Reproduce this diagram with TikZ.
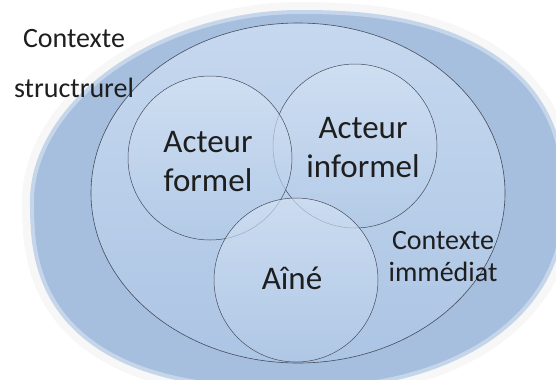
\documentclass[tikz,border=0pt]{standalone}
\usepackage{fontspec}
\setmainfont{Carlito}
\usepackage{tikz}
\usetikzlibrary{shapes.geometric}
\definecolor{ringblue}{RGB}{166,191,222}
\definecolor{ctxtop}{RGB}{198,216,239}
\definecolor{ctxbot}{RGB}{172,197,228}
\definecolor{circtop}{RGB}{214,228,245}
\definecolor{circbot}{RGB}{178,202,231}
\definecolor{rim}{RGB}{70,76,92}
\definecolor{ink}{RGB}{30,30,30}

\begin{document}
\begin{tikzpicture}[
      x=1bp,y=-1bp,
      actor/.style={circle,draw=rim,line width=0.5bp,minimum size=164bp,inner sep=0pt,
        top color=circtop,bottom color=circbot,fill opacity=0.65},
      bigtxt/.style={font=\fontsize{33bp}{39bp}\selectfont,text=ink,align=center,inner sep=0pt},
      smalltxt/.style={font=\fontsize{28bp}{32bp}\selectfont,text=ink,align=center,inner sep=0pt}]
    \useasboundingbox (0,0) rectangle (556,379);
    % contexte structurel (soft rim), one quarter at a time
    \draw[fill=ringblue,draw=ringblue!65!white,line width=4bp,
          preaction={draw=gray!6,line width=20bp}]
      plot[domain=0.5:89.5,samples=45] ({298+266*pow(cos(\x),0.91)},{200+188*pow(sin(\x),0.91)})
      -- plot[domain=90.5:179.5,samples=45] ({298-266*pow(-cos(\x),0.77)},{200+188*pow(sin(\x),0.77)})
      -- plot[domain=180.5:269.5,samples=45] ({298-266*pow(-cos(\x),1.05)},{200-188*pow(-sin(\x),1.05)})
      -- plot[domain=270.5:359.5,samples=45] ({298+266*pow(cos(\x),0.83)},{200-188*pow(-sin(\x),0.83)})
      -- cycle;
    \node[ellipse,draw=rim,line width=0.6bp,minimum width=414bp,minimum height=340bp,
          inner sep=0pt,top color=ctxtop,bottom color=ctxbot] (imm) at (298,193) {};
    \node[actor] (informel) at (355,146) {};
    \node[actor] (formel) at (210,158) {};
    \node[actor] (aine) at (296,280) {};
    % labels
    \node[smalltxt] (lstruct) at (74,64) {Contexte\\[18bp]structrurel};
    \node[bigtxt] (lformel) at (208,162) {Acteur\\formel};
    \node[bigtxt] (linformel) at (363,148) {Acteur\\informel};
    \node[bigtxt] (laine) at (292,278) {Aîné};
    \node[smalltxt] (limm) at (443,257) {Contexte\\immédiat};
  \end{tikzpicture}
\end{document}
